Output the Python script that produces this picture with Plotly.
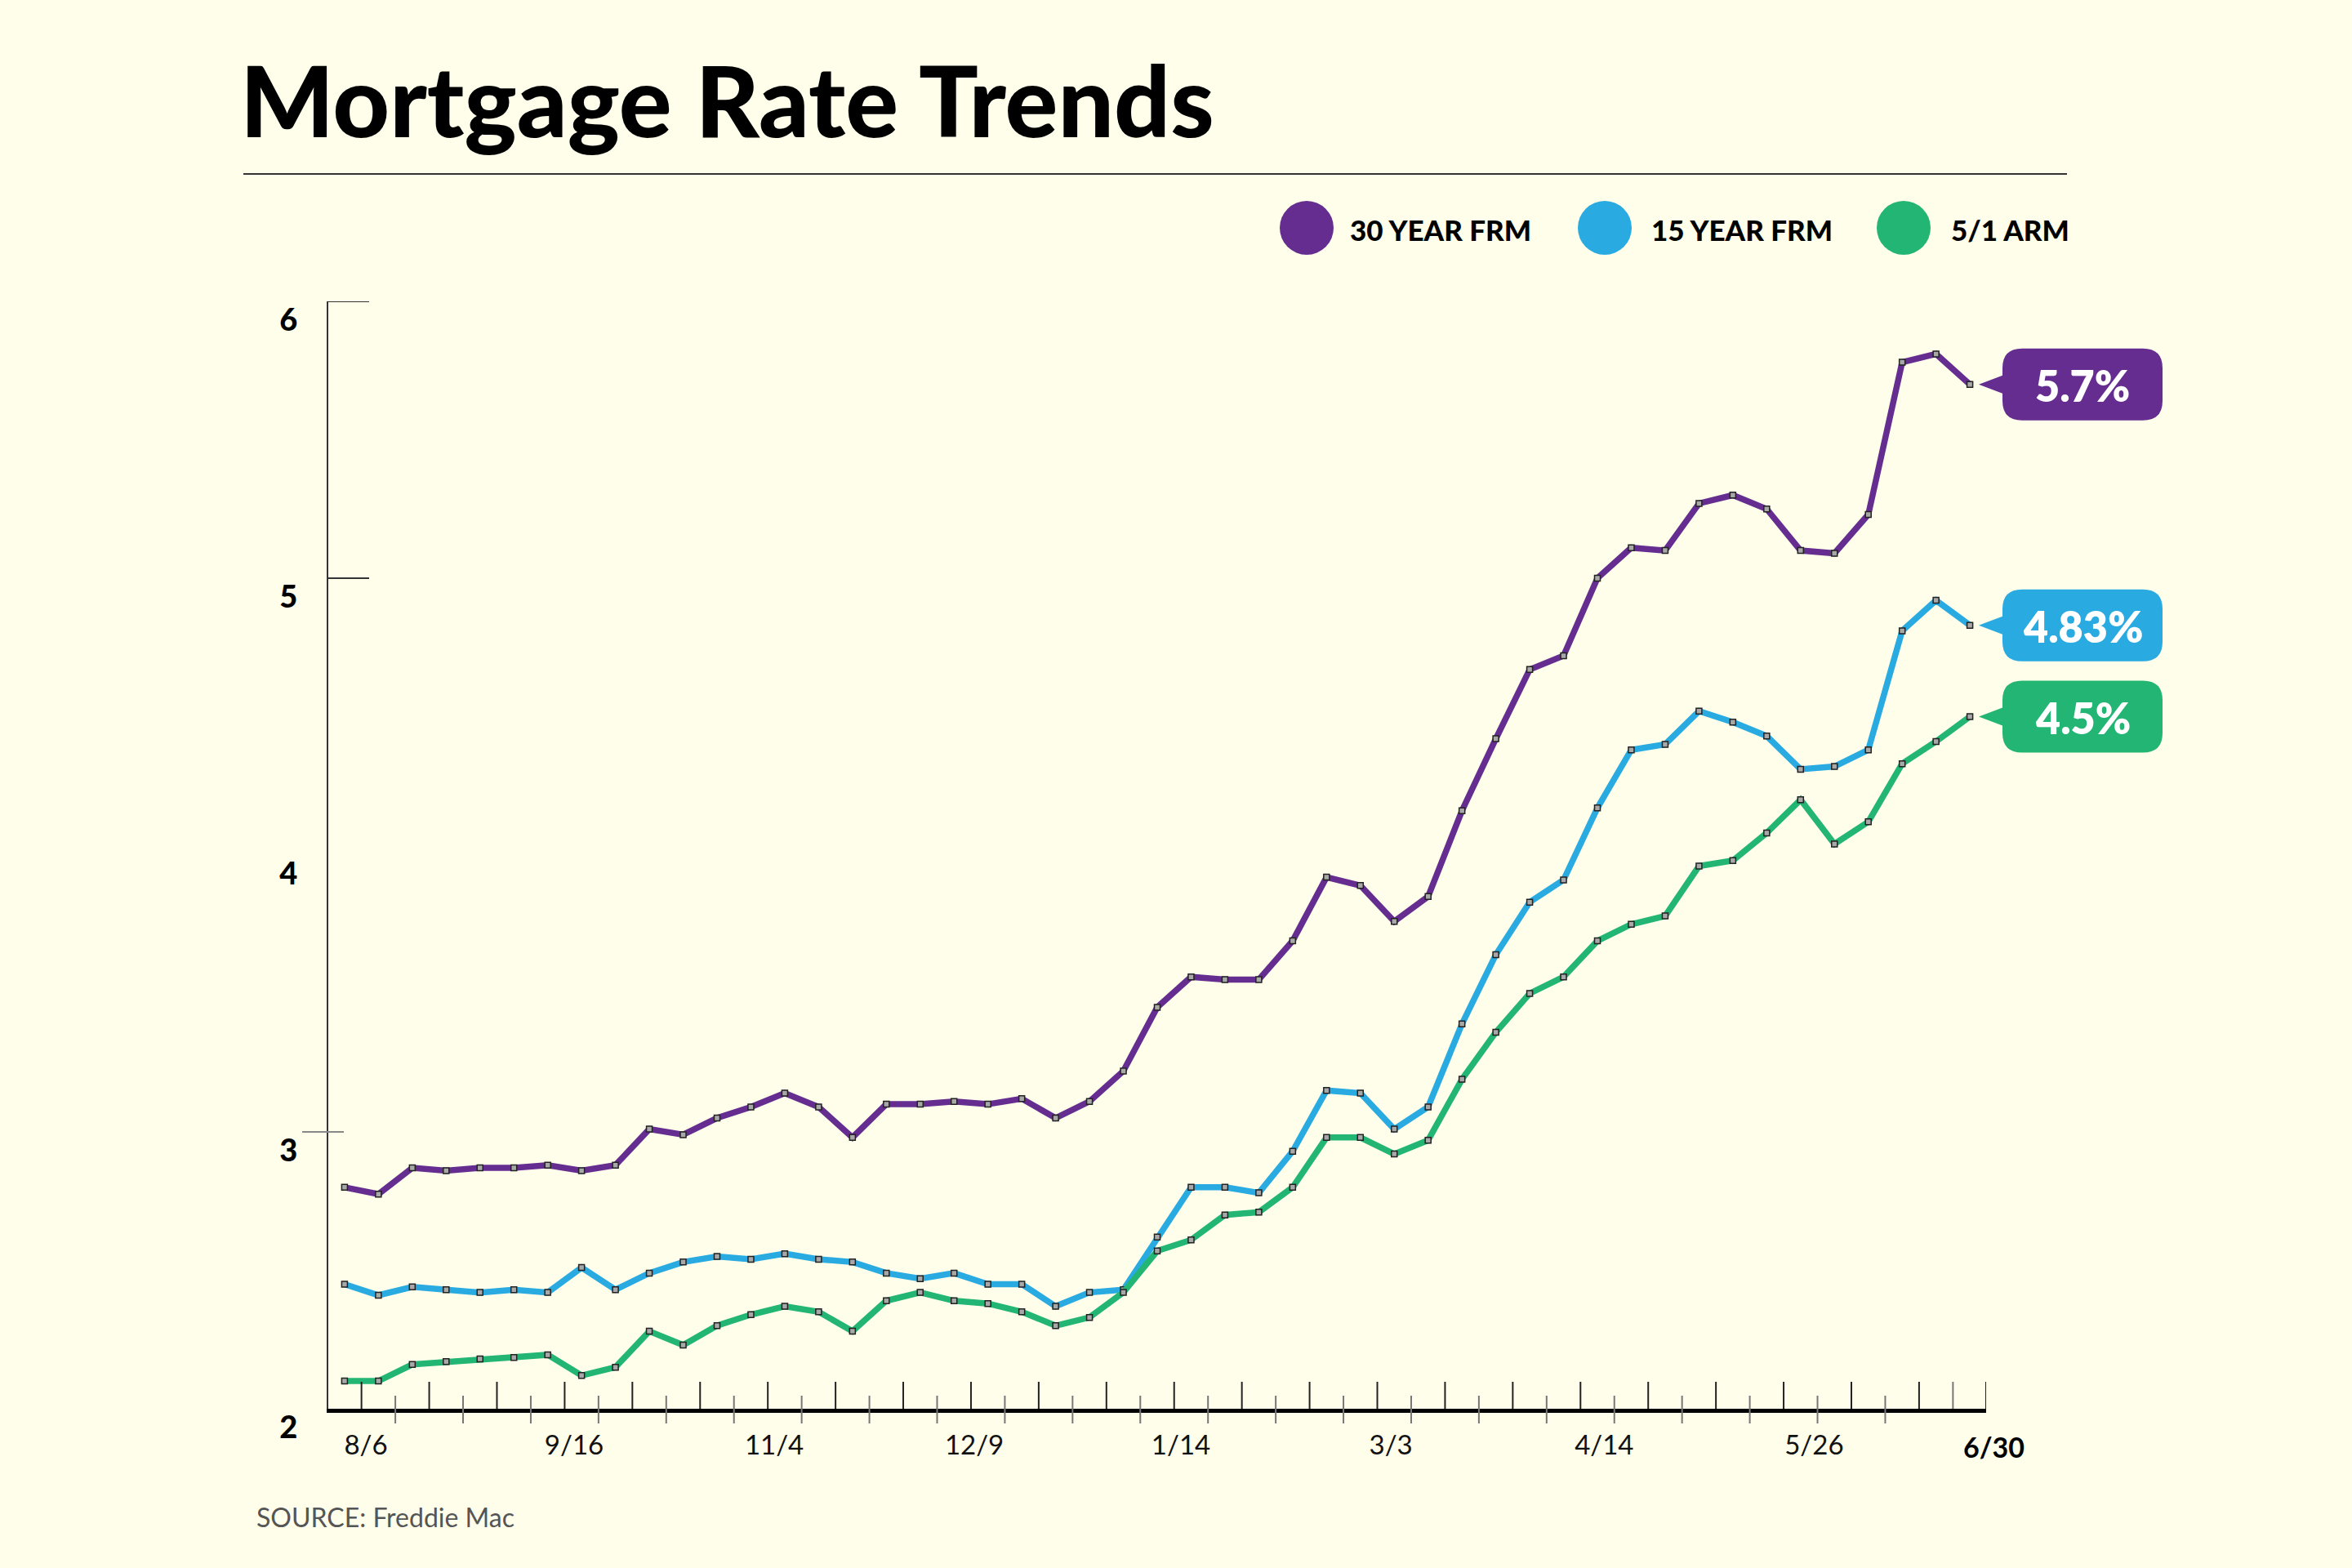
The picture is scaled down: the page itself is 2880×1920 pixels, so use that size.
import plotly.graph_objects as go

# ---------------- data ----------------
weeks = list(range(49))  # weekly observations, 7/29 .. 6/30
rate_30yr = [2.80, 2.775, 2.87, 2.86, 2.87, 2.87, 2.88, 2.86, 2.88, 3.01,
             2.99, 3.05, 3.09, 3.14, 3.09, 2.98, 3.10, 3.10, 3.11, 3.10,
             3.12, 3.05, 3.11, 3.22, 3.45, 3.56, 3.55, 3.55, 3.69, 3.92,
             3.89, 3.76, 3.85, 4.16, 4.42, 4.67, 4.72, 5.00, 5.11, 5.10,
             5.27, 5.30, 5.25, 5.10, 5.09, 5.23, 5.78, 5.81, 5.70]
rate_15yr = [2.45, 2.41, 2.44, 2.43, 2.42, 2.43, 2.42, 2.51, 2.43, 2.49,
             2.53, 2.55, 2.54, 2.56, 2.54, 2.53, 2.49, 2.47, 2.49, 2.45,
             2.45, 2.37, 2.42, 2.43, 2.62, 2.80, 2.80, 2.78, 2.93, 3.15,
             3.14, 3.01, 3.09, 3.39, 3.64, 3.83, 3.91, 4.17, 4.38, 4.40,
             4.52, 4.48, 4.43, 4.31, 4.32, 4.38, 4.81, 4.92, 4.83]
rate_arm = [2.10, 2.10, 2.16, 2.17, 2.18, 2.185, 2.195, 2.12, 2.15, 2.28,
            2.23, 2.30, 2.34, 2.37, 2.35, 2.28, 2.39, 2.42, 2.39, 2.38,
            2.35, 2.30, 2.33, 2.42, 2.57, 2.61, 2.70, 2.71, 2.80, 2.98,
            2.98, 2.92, 2.97, 3.19, 3.36, 3.50, 3.56, 3.69, 3.75, 3.78,
            3.96, 3.98, 4.08, 4.20, 4.04, 4.12, 4.33, 4.41, 4.50]
series_names = ["30 YEAR FRM", "15 YEAR FRM", "5/1 ARM"]
callout_text = ["5.7%", "4.83%", "4.5%"]
x_tick_labels = ["8/6", "9/16", "11/4", "12/9", "1/14", "3/3", "4/14", "5/26", "6/30"]
y_tick_values = [2, 3, 4, 5, 6]

# ---------------- styling ----------------
W, H = 2880, 1920
BG = "#FEFEEA"
COLORS = ["#662D91", "#29ABE2", "#22B573"]
FONT = "Lato"
L, R, T, B = 402, 448, 369, 195
PW, PH = W - L - R, H - T - B


def xp(px):
    return (px - L) / PW


def yp(py):
    return (H - B - py) / PH


fig = go.Figure()
series = [rate_30yr, rate_15yr, rate_arm]
for name, vals, col in zip(series_names, series, COLORS):
    fig.add_trace(go.Scatter(
        x=weeks, y=vals, name=name, mode="lines+markers",
        line=dict(color=col, width=7.5),
        marker=dict(symbol="square", size=7, color="#A8A8A8",
                    line=dict(color="#222222", width=1.5)),
        showlegend=False, cliponaxis=False,
    ))

shapes = []
annotations = []

# title rule
shapes.append(dict(type="line", xref="paper", yref="paper",
                   x0=xp(298), x1=xp(2531), y0=yp(213), y1=yp(213),
                   line=dict(color="#333333", width=2)))

# y-axis tick marks (as in the original artwork)
for yv, a, b, c in [(6, 401, 452, "#333333"), (5, 401, 452, "#333333"), (3, 370, 421, "#888888")]:
    shapes.append(dict(type="line", xref="paper", yref="y", x0=xp(a), x1=xp(b),
                       y0=yv, y1=yv, line=dict(color=c, width=2)))

# x-axis tick marks: alternating week ticks
n = len(weeks)
for i in range(n - 3):
    pos = i + 0.5
    if i % 2 == 0:
        shapes.append(dict(type="line", xref="x", yref="paper", ysizemode="pixel", yanchor=0,
                           x0=pos, x1=pos, y0=0, y1=33, line=dict(color="#222222", width=2)))
    else:
        shapes.append(dict(type="line", xref="x", yref="paper", ysizemode="pixel", yanchor=0,
                           x0=pos, x1=pos, y0=-18, y1=16, line=dict(color="#777777", width=2)))
for pos, c in [(n - 2.5, "#222222"), (n - 1.5, "#777777"), (n - 0.52, "#222222")]:
    shapes.append(dict(type="line", xref="x", yref="paper", ysizemode="pixel", yanchor=0,
                       x0=pos, x1=pos, y0=0, y1=33, line=dict(color=c, width=2)))

# callouts: anchored at the right edge of the plot horizontally, at each last value vertically
callout_path = ("M -9,0 L 20,11 L 20,20 Q 20,44 44,44 L 192,44 Q 216,44 216,20 "
                "L 216,-20 Q 216,-44 192,-44 L 44,-44 Q 20,-44 20,-20 L 20,-11 Z")
for vals, col, txt in zip(series, COLORS, callout_text):
    shapes.append(dict(type="path", xref="x domain", yref="y", xsizemode="pixel", ysizemode="pixel",
                       xanchor=1, yanchor=vals[-1], path=callout_path,
                       fillcolor=col, line=dict(width=0)))
    annotations.append(dict(x=1, y=vals[-1], xref="x domain", yref="y", xshift=118, yshift=-1,
                            text=txt, showarrow=False, xanchor="center", yanchor="middle",
                            font=dict(family=FONT, size=52, color="white", weight=800)))

# legend
legend_cx = [1600, 1965, 2331]
legend_tx = [1651, 2020, 2387]
for cx, tx, col, name in zip(legend_cx, legend_tx, COLORS, series_names):
    shapes.append(dict(type="circle", xref="paper", yref="paper",
                       x0=xp(cx - 33), x1=xp(cx + 33), y0=yp(279 + 33), y1=yp(279 - 33),
                       fillcolor=col, line=dict(width=0)))
    annotations.append(dict(x=xp(tx), y=yp(281), xref="paper", yref="paper", text=name,
                            showarrow=False, xanchor="left", yanchor="middle",
                            font=dict(family=FONT, size=35, color="#000000", weight=900)))

# title
annotations.append(dict(x=xp(292), y=yp(172), xref="paper", yref="paper",
                        text="Mortgage Rate Trends", showarrow=False,
                        xanchor="left", yanchor="bottom", yshift=-24,
                        font=dict(family=FONT, size=121, color="#000000", weight=900)))
# source
annotations.append(dict(x=xp(312), y=yp(1857), xref="paper", yref="paper",
                        text="SOURCE: Freddie Mac", showarrow=False,
                        xanchor="left", yanchor="middle",
                        font=dict(family=FONT, size=32, color="#555555")))
# last date label sits just past the axis end, in bold
annotations.append(dict(x=1, y=0, xref="x domain", yref="paper", xshift=9, yshift=-46,
                        text="<b>" + x_tick_labels[-1] + "</b>", showarrow=False,
                        xanchor="center", yanchor="middle",
                        font=dict(family=FONT, size=34, color="#000000", weight=900)))

x_tick_pos = [0.63, 6.78, 12.69, 18.6, 24.7, 30.9, 37.2, 43.4]

fig.update_layout(
    width=W, height=H, autosize=False,
    paper_bgcolor=BG, plot_bgcolor=BG,
    margin=dict(l=L, r=R, t=T, b=B),
    shapes=shapes, annotations=annotations,
    xaxis=dict(range=[-0.48, n - 0.52], showgrid=False, zeroline=False,
               showline=True, linecolor="#000000", linewidth=5,
               tickvals=x_tick_pos, ticktext=x_tick_labels[:-1], ticks="",
               ticklabelstandoff=11,
               tickfont=dict(family=FONT, size=33, color="#111111")),
    yaxis=dict(range=[2, 6], showgrid=False, zeroline=False,
               showline=True, linecolor="#333333", linewidth=2,
               tickvals=y_tick_values, ticktext=[str(v) for v in y_tick_values], ticks="",
               ticklabelshift=23, ticklabelstandoff=28,
               tickfont=dict(family=FONT, size=38, color="#000000", weight=900)),
)

fig.write_html("out.html", config={"displayModeBar": False},
               post_script="document.body.style.margin='0';")
